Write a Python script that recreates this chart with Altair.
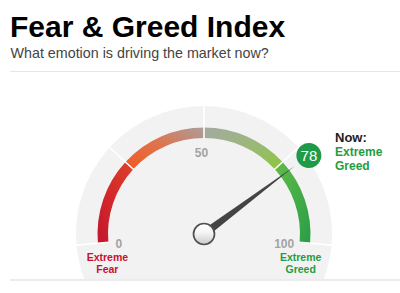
import math
import altair as alt
import pandas as pd

# ---------------- data ----------------
title_text = "Fear & Greed Index"
subtitle_text = "What emotion is driving the market now?"

seg_start = [0, 25, 50, 75]
seg_end = [25, 50, 75, 100]
seg_colors = [
    ["#c3152f", "#d42a2a", "#de412b"],
    ["#f15a24", "#e0724a", "#ab9e9c"],
    ["#a4a9a0", "#9cb77c", "#8cc63e"],
    ["#62bb47", "#45ae47", "#2a9c48"],
]
seg_dirs = [(0, 1, 1, 0), (0, 1, 1, 0), (0, 0, 1, 1), (0, 0, 1, 1)]

boundaries = [0, 25, 50, 75, 100]
tick_values = [0, 50, 100]
tick_labels = ["0", "50", "100"]

zone_values = [0, 100]
zone_labels = ["Extreme\nFear", "Extreme\nGreed"]
zone_colors = ["#c8102e", "#1f9d42"]

now_value = 78
now_title = "Now:"
now_label = "Extreme\nGreed"

# ---------------- layout ----------------
W, H = 400, 293
CX, CY = 204, 234
R_DISC = 128
R_OUT, R_IN = 106.5, 96
FONT = "Liberation Sans"

theta_scale = alt.Scale(domain=[0, 100], range=[-95 * math.pi / 180, 95 * math.pi / 180])
angle_scale = alt.Scale(domain=[0, 100], range=[-95, 95])

center = dict(x=alt.value(CX), y=alt.value(CY))

layers = []

# background disc
disc = alt.Chart(pd.DataFrame({"d": [0]})).mark_arc(
    fill="#f2f2f2", radius=R_DISC, theta=0, theta2=2 * math.pi
).encode(**center)
layers.append(disc)

# white cover below bottom line
cover = alt.Chart(pd.DataFrame({"d": [0]})).mark_rect(fill="white").encode(
    x=alt.value(0), x2=alt.value(W), y=alt.value(280), y2=alt.value(H)
)
layers.append(cover)

# colored gauge segments
for s, e, cols, (x1, y1, x2, y2) in zip(seg_start, seg_end, seg_colors, seg_dirs):
    grad = alt.LinearGradient(
        gradient="linear",
        stops=[
            alt.GradientStop(offset=0, color=cols[0]),
            alt.GradientStop(offset=0.5, color=cols[1]),
            alt.GradientStop(offset=1, color=cols[2]),
        ],
        x1=x1, y1=y1, x2=x2, y2=y2,
    )
    seg = alt.Chart(pd.DataFrame({"start": [s], "end": [e]})).mark_arc(
        radius=R_OUT, radius2=R_IN, fill=grad
    ).encode(
        theta=alt.Theta("start:Q", scale=theta_scale, stack=False),
        theta2="end:Q",
        **center,
    )
    layers.append(seg)

# white radial separators
sep = alt.Chart(pd.DataFrame({"b": boundaries})).mark_arc(
    radius=R_DISC, radius2=R_IN - 0.5, stroke="white", strokeWidth=1.6, fillOpacity=0
).encode(
    theta=alt.Theta("b:Q", scale=theta_scale, stack=False),
    theta2="b:Q",
    **center,
)
layers.append(sep)

# tick labels
ticks = alt.Chart(pd.DataFrame({"v": tick_values, "label": tick_labels})).mark_text(
    font=FONT, fontSize=12, fontWeight="bold", color="#a3a3a3", radius=83,
    dx=-2.5, dy=2.3, baseline="middle", align="center"
).encode(
    theta=alt.Theta("v:Q", scale=theta_scale, stack=False),
    text="label:N",
    **center,
)
layers.append(ticks)

# zone labels
zones = alt.Chart(pd.DataFrame({"v": zone_values, "label": zone_labels, "c": zone_colors})).mark_text(
    font=FONT, fontSize=10.5, fontWeight="bold", radius=97, dy=18.3,
    lineBreak="\n", lineHeight=12, baseline="alphabetic", align="center"
).encode(
    theta=alt.Theta("v:Q", scale=theta_scale, stack=False),
    text="label:N",
    color=alt.Color("c:N", scale=None),
    **center,
)
layers.append(zones)

now_df = pd.DataFrame({"v": [now_value]})

# needle
needle = alt.Chart(now_df).mark_point(
    shape="M -0.038 0.05 L 0 -1 L 0.038 0.05 Z",
    size=226 ** 2, filled=True, fill="#444444", opacity=1, strokeWidth=0
).encode(angle=alt.Angle("v:Q", scale=angle_scale), **center)
layers.append(needle)

# value marker circle (rotated with the needle)
r_c = 12.5 / 113
d_c = 131 / 113
circ_path = (
    f"M {-r_c:.4f} {-d_c:.4f} A {r_c:.4f} {r_c:.4f} 0 1 0 {r_c:.4f} {-d_c:.4f} "
    f"A {r_c:.4f} {r_c:.4f} 0 1 0 {-r_c:.4f} {-d_c:.4f} Z"
)
marker = alt.Chart(now_df).mark_point(
    shape=circ_path, size=226 ** 2, filled=True, fill="#1f9a48", opacity=1, strokeWidth=0
).encode(angle=alt.Angle("v:Q", scale=angle_scale), **center)
layers.append(marker)

marker_text = alt.Chart(now_df).mark_text(
    font=FONT, fontSize=15, color="white", radius=131, baseline="middle", align="center", dy=0.5
).encode(
    theta=alt.Theta("v:Q", scale=theta_scale, stack=False),
    text="v:Q",
    **center,
)
layers.append(marker_text)

# pivot
pivot_grad = alt.LinearGradient(
    gradient="linear",
    stops=[
        alt.GradientStop(offset=0, color="#ffffff"),
        alt.GradientStop(offset=0.45, color="#f4f4f4"),
        alt.GradientStop(offset=1, color="#c9c9c9"),
    ],
    x1=0, y1=0, x2=0, y2=1,
)
pivot = alt.Chart(pd.DataFrame({"d": [0]})).mark_point(
    shape="circle", size=21 ** 2, filled=True, fill=pivot_grad, stroke="#505050",
    strokeWidth=1.7, opacity=1
).encode(**center)
layers.append(pivot)

# "Now:" label
now_t = alt.Chart(pd.DataFrame({"t": [now_title]})).mark_text(
    font=FONT, fontSize=13, fontWeight="bold", color="#222222", align="left", baseline="alphabetic"
).encode(text="t:N", x=alt.value(335), y=alt.value(141.5))
layers.append(now_t)

now_l = alt.Chart(pd.DataFrame({"t": [now_label]})).mark_text(
    font=FONT, fontSize=12, fontWeight="bold", color="#1f9d42", align="left",
    baseline="alphabetic", lineBreak="\n", lineHeight=13.5
).encode(text="t:N", x=alt.value(335), y=alt.value(156.3))
layers.append(now_l)

# title & subtitle
title = alt.Chart(pd.DataFrame({"t": [title_text]})).mark_text(
    font=FONT, fontSize=30, fontWeight="bold", color="#000000", align="left", baseline="alphabetic"
).encode(text="t:N", x=alt.value(10), y=alt.value(37))
layers.append(title)

subtitle = alt.Chart(pd.DataFrame({"t": [subtitle_text]})).mark_text(
    font=FONT, fontSize=14.3, color="#444444", align="left", baseline="alphabetic"
).encode(text="t:N", x=alt.value(10.5), y=alt.value(58))
layers.append(subtitle)

# divider lines
top_line = alt.Chart(pd.DataFrame({"d": [0]})).mark_rule(color="#e6e6e6", strokeWidth=1.2).encode(
    x=alt.value(10), x2=alt.value(W), y=alt.value(71.5)
)
bottom_line = alt.Chart(pd.DataFrame({"d": [0]})).mark_rule(color="#ececec", strokeWidth=2).encode(
    x=alt.value(10), x2=alt.value(W), y=alt.value(280)
)
layers += [top_line, bottom_line]

chart = alt.layer(*layers).properties(
    width=W, height=H, padding=0, autosize=alt.AutoSizeParams(type="none"), background="white"
).configure_view(stroke=None)

chart.save("out.html", embed_options={"renderer": "svg", "actions": False})
